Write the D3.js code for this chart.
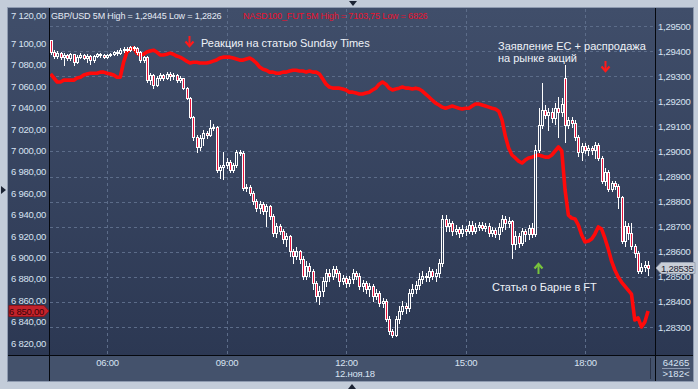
<!DOCTYPE html>
<html><head><meta charset="utf-8">
<script src="https://cdn.jsdelivr.net/npm/d3@7"></script>
<style>
html,body{margin:0;padding:0;background:#c3ccd9;}
svg{display:block;font-family:"Liberation Sans",Arial,sans-serif;}
</style></head><body>
<svg id="c" width="698" height="389"></svg>
<script>
// ---------- DATA ----------
const timeTicks = ["06:00","09:00","12:00","15:00","18:00"];
const dateLabel = "12.ноя.18";
const sessionDay = [2018, 10, 12];
const firstBar = "04:35";
const barMinutes = 5;
const headerGbp = "GBP/USD 5M High = 1,29445 Low = 1,2826";
const headerNasdaq = "NASD100_FUT 5M High = 7103,75 Low = 6826";
const rightTicks = [1.283,1.284,1.285,1.286,1.287,1.288,1.289,1.290,1.291,1.292,1.293,1.294,1.295];
const leftTicks = [6820,6840,6860,6880,6900,6920,6940,6960,6980,7000,7020,7040,7060,7080,7100,7120];
const barCount = "64265";
const barsVisible = ">182<";
const noteTexts = [
  ["Реакция на статью Sunday Times"],
  ["Заявление ЕС + распродажа","на рынке акций"],
  ["Статья о Барне в FT"]
];

const gbpOpen = [
1.29444,1.29396,1.29380,1.29392,1.29376,1.29384,1.29372,1.29388,1.29356,1.29376,
1.29384,1.29372,1.29380,1.29364,1.29380,1.29388,1.29384,1.29376,1.29384,1.29388,
1.29396,1.29392,1.29404,1.29408,1.29404,1.29416,1.29412,1.29396,1.29364,1.29376,
1.29284,1.29304,1.29264,1.29292,1.29304,1.29292,1.29308,1.29300,1.29304,1.29284,
1.29292,1.29252,1.29212,1.29136,1.29056,1.29016,1.29052,1.29072,1.29064,1.29092,
1.29096,1.28924,1.28936,1.28944,1.28956,1.28924,1.28944,1.28996,1.28992,1.28856,
1.28860,1.28836,1.28804,1.28776,1.28792,1.28764,1.28784,1.28744,1.28676,1.28704,
1.28684,1.28652,1.28664,1.28604,1.28584,1.28604,1.28572,1.28504,1.28544,1.28524,
1.28476,1.28424,1.28444,1.28484,1.28516,1.28504,1.28532,1.28516,1.28484,1.28496,
1.28476,1.28492,1.28516,1.28504,1.28464,1.28476,1.28452,1.28464,1.28424,1.28436,
1.28396,1.28404,1.28332,1.28284,1.28268,1.28332,1.28364,1.28384,1.28376,1.28436,
1.28452,1.28468,1.28492,1.28504,1.28500,1.28524,1.28504,1.28516,1.28556,1.28732,
1.28704,1.28716,1.28684,1.28692,1.28676,1.28692,1.28684,1.28708,1.28684,1.28700,
1.28708,1.28696,1.28704,1.28676,1.28688,1.28672,1.28700,1.28732,1.28716,1.28724,
1.28632,1.28664,1.28636,1.28684,1.28672,1.28696,1.28672,1.29004,1.29104,1.29164,
1.29144,1.29156,1.29132,1.29172,1.29156,1.29292,1.29104,1.29124,1.29112,1.29056,
1.28996,1.29020,1.29004,1.29012,1.29004,1.29024,1.28972,1.28884,1.28916,1.28852,
1.28876,1.28864,1.28820,1.28644,1.28704,1.28676,1.28624,1.28596,1.28524,1.28540,
1.28548];
const gbpHigh = [
1.29445,1.29404,1.29400,1.29396,1.29392,1.29388,1.29392,1.29388,1.29384,1.29392,
1.29388,1.29388,1.29384,1.29384,1.29392,1.29392,1.29388,1.29388,1.29392,1.29400,
1.29404,1.29412,1.29416,1.29416,1.29420,1.29420,1.29416,1.29400,1.29380,1.29380,
1.29312,1.29308,1.29300,1.29312,1.29308,1.29316,1.29316,1.29312,1.29308,1.29300,
1.29292,1.29256,1.29216,1.29140,1.29064,1.29064,1.29084,1.29080,1.29124,1.29108,
1.29100,1.28944,1.28996,1.28972,1.28964,1.28952,1.29004,1.29004,1.29000,1.28872,
1.28868,1.28844,1.28812,1.28804,1.28800,1.28792,1.28788,1.28752,1.28716,1.28712,
1.28692,1.28676,1.28668,1.28612,1.28620,1.28608,1.28584,1.28564,1.28556,1.28532,
1.28484,1.28464,1.28500,1.28532,1.28532,1.28544,1.28544,1.28524,1.28508,1.28504,
1.28504,1.28532,1.28524,1.28516,1.28488,1.28484,1.28476,1.28472,1.28452,1.28444,
1.28416,1.28412,1.28344,1.28292,1.28344,1.28384,1.28404,1.28396,1.28452,1.28472,
1.28484,1.28516,1.28524,1.28516,1.28540,1.28532,1.28532,1.28572,1.28748,1.28748,
1.28732,1.28724,1.28708,1.28700,1.28708,1.28704,1.28724,1.28724,1.28716,1.28720,
1.28720,1.28716,1.28716,1.28700,1.28696,1.28716,1.28748,1.28744,1.28740,1.28728,
1.28684,1.28676,1.28696,1.28692,1.28708,1.28716,1.29024,1.29172,1.29272,1.29184,
1.29172,1.29172,1.29192,1.29216,1.29212,1.29344,1.29136,1.29136,1.29124,1.29064,
1.29032,1.29032,1.29024,1.29020,1.29036,1.29032,1.28980,1.28932,1.28924,1.28884,
1.28884,1.28872,1.28824,1.28724,1.28716,1.28716,1.28632,1.28604,1.28556,1.28564,
1.28564];
const gbpLow = [
1.29388,1.29372,1.29372,1.29368,1.29344,1.29364,1.29364,1.29344,1.29352,1.29372,
1.29368,1.29356,1.29348,1.29356,1.29376,1.29376,1.29372,1.29372,1.29380,1.29384,
1.29384,1.29388,1.29396,1.29400,1.29400,1.29404,1.29388,1.29356,1.29356,1.29276,
1.29268,1.29252,1.29260,1.29284,1.29284,1.29288,1.29284,1.29288,1.29276,1.29276,
1.29248,1.29208,1.29132,1.29044,1.28996,1.29004,1.29024,1.29052,1.29060,1.29084,
1.28916,1.28896,1.28892,1.28932,1.28916,1.28916,1.28936,1.28984,1.28848,1.28844,
1.28828,1.28792,1.28764,1.28756,1.28752,1.28704,1.28732,1.28664,1.28660,1.28672,
1.28636,1.28624,1.28584,1.28556,1.28572,1.28556,1.28492,1.28492,1.28504,1.28452,
1.28404,1.28392,1.28424,1.28464,1.28484,1.28492,1.28500,1.28464,1.28472,1.28460,
1.28464,1.28476,1.28492,1.28452,1.28444,1.28436,1.28424,1.28404,1.28412,1.28384,
1.28380,1.28324,1.28272,1.28260,1.28264,1.28316,1.28352,1.28356,1.28364,1.28424,
1.28436,1.28452,1.28476,1.28484,1.28484,1.28492,1.28484,1.28500,1.28544,1.28684,
1.28684,1.28668,1.28672,1.28660,1.28664,1.28668,1.28676,1.28672,1.28676,1.28688,
1.28688,1.28684,1.28664,1.28664,1.28660,1.28652,1.28684,1.28692,1.28700,1.28576,
1.28612,1.28620,1.28628,1.28644,1.28652,1.28660,1.28664,1.28996,1.29092,1.29132,
1.29084,1.29116,1.29108,1.29056,1.29140,1.29036,1.29092,1.29096,1.29044,1.28980,
1.28964,1.28992,1.28984,1.28988,1.28972,1.28964,1.28876,1.28868,1.28844,1.28844,
1.28852,1.28776,1.28636,1.28624,1.28652,1.28612,1.28580,1.28516,1.28516,1.28524,
1.28508];
const gbpClose = [
1.29396,1.29380,1.29392,1.29376,1.29384,1.29372,1.29388,1.29356,1.29376,1.29384,
1.29372,1.29380,1.29364,1.29380,1.29388,1.29384,1.29376,1.29384,1.29388,1.29396,
1.29392,1.29404,1.29408,1.29404,1.29416,1.29412,1.29396,1.29364,1.29376,1.29284,
1.29304,1.29264,1.29292,1.29304,1.29292,1.29308,1.29300,1.29304,1.29284,1.29292,
1.29252,1.29212,1.29136,1.29056,1.29016,1.29052,1.29072,1.29064,1.29092,1.29096,
1.28924,1.28936,1.28944,1.28956,1.28924,1.28944,1.28996,1.28992,1.28856,1.28860,
1.28836,1.28804,1.28776,1.28792,1.28764,1.28784,1.28744,1.28676,1.28704,1.28684,
1.28652,1.28664,1.28604,1.28584,1.28604,1.28572,1.28504,1.28544,1.28524,1.28476,
1.28424,1.28444,1.28484,1.28516,1.28504,1.28532,1.28516,1.28484,1.28496,1.28476,
1.28492,1.28516,1.28504,1.28464,1.28476,1.28452,1.28464,1.28424,1.28436,1.28396,
1.28404,1.28332,1.28284,1.28268,1.28332,1.28364,1.28384,1.28376,1.28436,1.28452,
1.28468,1.28492,1.28504,1.28500,1.28524,1.28504,1.28516,1.28556,1.28732,1.28704,
1.28716,1.28684,1.28692,1.28676,1.28692,1.28684,1.28708,1.28684,1.28700,1.28708,
1.28696,1.28704,1.28676,1.28688,1.28672,1.28700,1.28732,1.28716,1.28724,1.28632,
1.28664,1.28636,1.28684,1.28672,1.28696,1.28672,1.29004,1.29104,1.29164,1.29144,
1.29156,1.29132,1.29172,1.29156,1.29188,1.29104,1.29124,1.29112,1.29056,1.28996,
1.29020,1.29004,1.29012,1.29004,1.29024,1.28972,1.28884,1.28916,1.28852,1.28876,
1.28864,1.28820,1.28644,1.28704,1.28676,1.28624,1.28596,1.28524,1.28540,1.28548,
1.28535];
const nasdaq = [
7071.5,7067.75,7064,7064,7065.75,7065.75,7065.75,7065.75,7067.75,7068.5,
7070.5,7071.5,7072.25,7072.25,7072.25,7073.25,7073.25,7072.25,7071.5,7070.5,
7068.5,7068.5,7082.5,7092,7094.75,7095.75,7091,7089.25,7090,7092,
7093,7093.75,7092,7089.25,7089.25,7090,7091,7090,7088.25,7087.25,
7085.5,7083.5,7081.75,7082.5,7082.5,7081.75,7081.75,7081.75,7082.5,7083.5,
7084.5,7086.5,7087.25,7087.25,7087.25,7086.5,7085.5,7084.5,7084.5,7085.5,
7086.5,7084.5,7081.75,7078,7076,7075,7073.25,7073.25,7072.25,7072.25,
7073.25,7073.25,7074.25,7075,7075,7074.25,7074.25,7073.25,7074.25,7073.25,
7073.25,7071.5,7066.75,7062,7059.25,7058.25,7058.25,7058.25,7057.5,7056.5,
7054.5,7054.5,7053.75,7052.75,7052.75,7053.75,7054.5,7056.5,7058.25,7062,
7064,7062,7058.25,7056.5,7057.5,7058.25,7059.25,7058.25,7058.25,7057.5,
7058.25,7057.5,7055.5,7052.75,7050,7047,7044.25,7042.5,7040.5,7039.5,
7040.5,7041.5,7040.5,7039.5,7038.75,7039.5,7039.5,7041.5,7043.5,7043.5,
7042.5,7041.5,7040.5,7039.5,7038.75,7036.75,7028.5,7013.5,7002.25,6995.75,
6993,6990,6988.25,6991,6993,6993.75,6994.75,6995.75,6994.75,6993.75,
6993.75,6995.75,6999.5,7003.25,6999.5,6963,6939.5,6936.75,6936,6930.25,
6921,6914.5,6915.25,6917.25,6922,6928.5,6926.5,6918,6908,6896.5,
6888.25,6881.75,6877,6873.25,6869.5,6865.75,6841.5,6843.5,6835,6839.5,
6850];

// ---------- LAYOUT ----------
const svg = d3.select("#c");
const W = 698, H = 389;
const P = {l: 8, r: 693, t: 8, b: 381, axL: 49, axR: 655, axB: 355};
const axisTextColor = "#d8e3f2";
const noteColor = "#eef2f8";
const ru = d3.formatLocale({decimal: ",", thousands: " ", grouping: [3], currency: ["", ""]});
const fmtLeft = ru.format(",.2f");
const fmtRight = ru.format(".5f");

const parseT = s => { const [h, m] = s.split(":").map(Number); return new Date(sessionDay[0], sessionDay[1], sessionDay[2], h, m); };
const t0 = parseT(firstBar);
const barTimes = gbpClose.map((_, i) => new Date(t0.getTime() + i * barMinutes * 60000));

const x = d3.scaleTime().domain([parseT("06:00"), parseT("18:00")]).range([107, 585]);
const yR = d3.scaleLinear().domain([1.283, 1.295]).range([327, 26]);
const yL = d3.scaleLinear().domain([6820, 7100]).range([343, 43.5]);

// defs
const defs = svg.append("defs");
const g1 = defs.append("linearGradient").attr("id", "bg").attr("x1", 0).attr("y1", 0).attr("x2", 0).attr("y2", 1);
g1.append("stop").attr("offset", "0%").attr("stop-color", "#404e6a");
g1.append("stop").attr("offset", "100%").attr("stop-color", "#2c3853");
defs.append("clipPath").attr("id", "plotClip").append("rect")
  .attr("x", P.axL + 1).attr("y", P.t + 1).attr("width", P.axR - P.axL - 1).attr("height", P.axB - P.t - 1);

// frame
svg.append("rect").attr("width", W).attr("height", H).attr("fill", "#c3ccd9");
svg.append("rect").attr("x", P.l).attr("y", P.t).attr("width", P.r - P.l).attr("height", P.axB - P.t).attr("fill", "url(#bg)");
svg.append("rect").attr("x", P.l).attr("y", P.axB).attr("width", P.r - P.l).attr("height", P.b - P.axB).attr("fill", "#44526c");
svg.append("rect").attr("x", P.l - 0.5).attr("y", P.t - 0.5).attr("width", P.r - P.l + 1).attr("height", P.b - P.t + 1)
  .attr("fill", "none").attr("stroke", "#8f9bb0");

// grid
const grid = svg.append("g").attr("stroke", "#5c6c89").attr("stroke-dasharray", "3,3").attr("stroke-width", 1);
grid.selectAll("line.h").data(rightTicks).join("line").attr("class", "h")
  .attr("x1", P.axL + 1).attr("x2", P.axR).attr("y1", d => Math.round(yR(d)) + 0.5).attr("y2", d => Math.round(yR(d)) + 0.5);
grid.selectAll("line.v").data(timeTicks).join("line").attr("class", "v")
  .attr("y1", P.t + 1).attr("y2", P.axB).attr("x1", d => Math.round(x(parseT(d))) + 0.5).attr("x2", d => Math.round(x(parseT(d))) + 0.5);

// nasdaq line
const plot = svg.append("g").attr("clip-path", "url(#plotClip)");
plot.append("path").datum(nasdaq)
  .attr("fill", "none").attr("stroke", "#ff0a0a").attr("stroke-width", 3.6).attr("stroke-linejoin", "round")
  .attr("d", d3.line().x((d, i) => x(barTimes[i])).y(d => yL(d)));

// candles
const candles = plot.append("g");
gbpClose.forEach((c, i) => {
  const o = gbpOpen[i], h = gbpHigh[i], l = gbpLow[i];
  const cx = Math.round(x(barTimes[i]));
  const yTop = Math.round(yR(Math.max(o, c)));
  const yBot = Math.round(yR(Math.min(o, c)));
  const yH = Math.round(yR(h)), yLo = Math.round(yR(l));
  const bear = c < o;
  if (yH < yTop) candles.append("line").attr("x1", cx + 0.5).attr("x2", cx + 0.5).attr("y1", yH).attr("y2", yTop).attr("stroke", "#ffffff");
  if (yLo > yBot) candles.append("line").attr("x1", cx + 0.5).attr("x2", cx + 0.5).attr("y1", yBot).attr("y2", yLo + 1).attr("stroke", "#ffffff");
  candles.append("rect").attr("x", cx - 0.5).attr("y", yTop + 0.5).attr("width", 2).attr("height", Math.max(yBot - yTop, 1))
    .attr("fill", bear ? "#e8123a" : "none").attr("stroke", "#ffffff").attr("stroke-width", 1);
});

// separator lines
const sep = svg.append("g").attr("stroke", "#05080e").attr("stroke-width", 1);
sep.append("line").attr("x1", P.axL + 0.5).attr("x2", P.axL + 0.5).attr("y1", P.t).attr("y2", P.b);
sep.append("line").attr("x1", P.axR + 0.5).attr("x2", P.axR + 0.5).attr("y1", P.t).attr("y2", P.b);
sep.append("line").attr("x1", P.l).attr("x2", P.r).attr("y1", P.axB + 0.5).attr("y2", P.axB + 0.5);
svg.append("line").attr("x1", 650.5).attr("x2", 650.5).attr("y1", 358).attr("y2", 379).attr("stroke", "#2a3347");

// axes
function styleAxis(g) {
  g.select(".domain").remove();
  g.selectAll("text").attr("fill", axisTextColor).attr("font-family", null).style("font-size", "9.5px").style("letter-spacing", "-0.25px");
}
const gl = svg.append("g").attr("transform", `translate(${P.axL},0)`)
  .call(d3.axisLeft(yL).tickValues(leftTicks).tickFormat(fmtLeft).tickSize(0).tickPadding(3)).call(styleAxis);
gl.selectAll(".tick").filter(d => d === 7120).select("text").attr("dy", "-0.4em");
svg.append("g").attr("transform", `translate(${P.axR},0)`)
  .call(d3.axisRight(yR).tickValues(rightTicks).tickFormat(fmtRight).tickSize(0).tickPadding(3)).call(styleAxis);
svg.append("g").attr("transform", `translate(0,${P.axB + 1})`)
  .call(d3.axisBottom(x).tickValues(timeTicks.map(parseT)).tickFormat(d3.timeFormat("%H:%M")).tickSize(0).tickPadding(3)).call(styleAxis);
svg.append("text").attr("x", x(parseT("12:00")) - 11).attr("y", 377).attr("fill", axisTextColor)
  .style("font-size", "9.5px").style("letter-spacing", "-0.25px").text(dateLabel);

// bottom right counters
svg.append("text").attr("x", 676).attr("y", 365.5).attr("text-anchor", "middle").attr("fill", axisTextColor)
  .style("font-size", "9.5px").text(barCount);
svg.append("line").attr("x1", 662).attr("x2", 690).attr("y1", 368.5).attr("y2", 368.5).attr("stroke", "#8c99b0");
svg.append("text").attr("x", 676).attr("y", 377).attr("text-anchor", "middle").attr("fill", axisTextColor)
  .style("font-size", "9.5px").text(barsVisible);

// header
svg.append("text").attr("x", 51).attr("y", 18.5).attr("fill", "#e4eaf4").style("font-size", "9px").style("letter-spacing", "-0.15px").text(headerGbp);
svg.append("text").attr("x", 243).attr("y", 18.5).attr("fill", "#e8112d").style("font-size", "9px").style("letter-spacing", "-0.15px").text(headerNasdaq);

// annotations
const ann = svg.append("g");
function arrow(cx, yTip, dir, color) {
  const s = dir === "down" ? -1 : 1;
  ann.append("line").attr("x1", cx).attr("x2", cx).attr("y1", yTip).attr("y2", yTip - s * -1 * 10)
    .attr("stroke", color).attr("stroke-width", 2);
  ann.append("path").attr("d", `M${cx - 4},${yTip - s * -4.5}L${cx},${yTip}L${cx + 4},${yTip - s * -4.5}`)
    .attr("fill", "none").attr("stroke", color).attr("stroke-width", 2.2);
}
arrow(189.5, 46, "down", "#ff1a1a");
ann.append("text").attr("x", 201).attr("y", 47).attr("fill", noteColor).style("font-size", "11px").text(noteTexts[0][0]);
ann.append("text").attr("x", 498).attr("y", 50).attr("fill", noteColor).style("font-size", "11px").text(noteTexts[1][0]);
ann.append("text").attr("x", 498).attr("y", 62).attr("fill", noteColor).style("font-size", "11px").text(noteTexts[1][1]);
arrow(605.5, 71, "down", "#ff1a1a");
arrow(538.5, 264, "up", "#78c43c");
ann.append("text").attr("x", 492).attr("y", 291).attr("fill", noteColor).style("font-size", "11px").text(noteTexts[2][0]);

// price tags
const lastN = nasdaq[nasdaq.length - 1], yN = Math.round(yL(lastN));
svg.append("path").attr("d", `M9,${yN - 5.5}H44L49,${yN}L44,${yN + 5.5}H9Z`).attr("fill", "#c3222b").attr("stroke", "#8a141b");
svg.append("text").attr("x", 44).attr("y", yN + 3.5).attr("text-anchor", "end").attr("fill", "#3a0508")
  .style("font-size", "9.5px").style("letter-spacing", "-0.25px").text(fmtLeft(lastN));
const lastG = gbpClose[gbpClose.length - 1], yG = Math.round(yR(lastG));
svg.append("path").attr("d", `M656,${yG}L661,${yG - 5.5}H695V${yG + 5.5}H661Z`).attr("fill", "#c9ced7").attr("stroke", "#9aa3b3");
svg.append("text").attr("x", 661).attr("y", yG + 3.5).attr("fill", "#1e2432")
  .style("font-size", "9.5px").style("letter-spacing", "-0.25px").text(fmtRight(lastG));

// small frame triangles
svg.append("path").attr("d", "M349,1L357,1L353,6Z").attr("fill", "#1b2333");
svg.append("path").attr("d", "M348,389L356,389L352,384Z").attr("fill", "#1b2333");
svg.append("path").attr("d", "M1,186L1,194L6,190Z").attr("fill", "#1b2333");
</script>
</body></html>
